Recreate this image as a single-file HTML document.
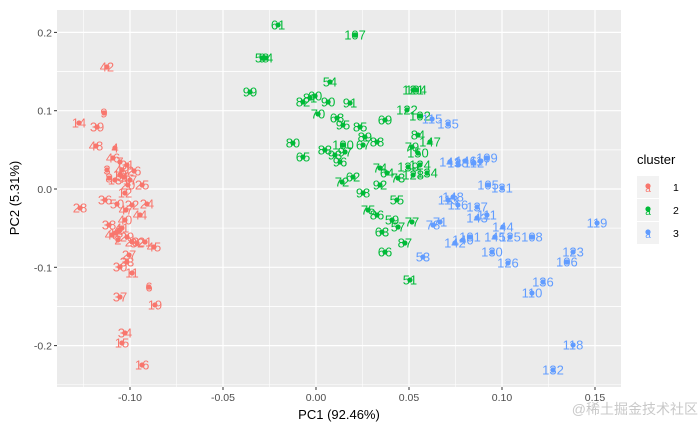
<!DOCTYPE html>
<html><head><meta charset="utf-8"><style>
body{margin:0;background:#fff;width:700px;height:432px;overflow:hidden}
svg{display:block;font-family:"Liberation Sans","Noto Sans CJK SC",sans-serif}
</style></head><body>
<svg id="chart" width="700" height="432">
<rect x="57" y="10" width="564" height="377" fill="#EBEBEB"/>
<g id="grid"></g>
<g id="pts"></g>
<g id="axes"></g>
<text x="339" y="419" font-size="13" text-anchor="middle" fill="#000">PC1 (92.46%)</text>
<text transform="translate(19,198) rotate(-90)" font-size="13" text-anchor="middle" fill="#000">PC2 (5.31%)</text>
<g>
<text x="637" y="164" font-size="13" fill="#000">cluster</text>
<g id="legend"></g>
</g>
<text x="698" y="414" font-size="14" text-anchor="end" fill="#bbb" opacity="0.8">@稀土掘金技术社区</text>
</svg>
<script>
const xTicks=[-0.10,-0.05,0.00,0.05,0.10,0.15];
const xTickLabels=["-0.10","-0.05","0.00","0.05","0.10","0.15"];
const yTicks=[0.2,0.1,0.0,-0.1,-0.2];
const yTickLabels=["0.2","0.1","0.0","-0.1","-0.2"];
const clusterNames=["1","2","3"];
const clusterColors=["#F8766D","#00BA38","#619CFF"];
const labels1=["42","9","14","39","48","4","46","7","31","26","3","8","10","35","13","25","12","28","36","50","22","24","44","40","38","1","18","41","29","23","32","21","45","27","33","30","11","6","37","19","34","15","16","2","20","43","47","49","17"];
const pc1_1=[-0.1124,-0.1140,-0.1274,-0.1177,-0.1183,-0.1081,-0.1091,-0.1054,-0.1016,-0.0978,-0.1124,-0.1113,-0.1054,-0.1032,-0.1081,-0.0935,-0.1027,-0.1269,-0.1134,-0.1070,-0.0989,-0.0909,-0.0946,-0.1027,-0.1113,-0.1059,-0.1075,-0.1043,-0.1016,-0.0989,-0.0962,-0.0919,-0.0871,-0.1005,-0.1016,-0.1054,-0.0989,-0.0898,-0.1054,-0.0866,-0.1027,-0.1043,-0.0935,-0.1065,-0.1011,-0.1097,-0.1022,-0.1043,-0.1000];
const pc2_1=[0.1558,0.0971,0.0843,0.0792,0.0549,0.0524,0.0396,0.0345,0.0307,0.0230,0.0243,0.0140,0.0179,0.0153,0.0115,0.0051,-0.0051,-0.0243,-0.0140,-0.0192,-0.0204,-0.0192,-0.0332,-0.0396,-0.0460,-0.0524,-0.0562,-0.0498,-0.0613,-0.0677,-0.0690,-0.0677,-0.0741,-0.0843,-0.0932,-0.0996,-0.1073,-0.1252,-0.1379,-0.1481,-0.1839,-0.1967,-0.2248,-0.0651,0.0051,-0.0587,-0.0268,0.0243,0.0115];
const labels2=["61","107","58","94","54","99","82","60","81","90","91","70","68","95","69","121","104","122","102","85","89","67","88","84","147","80","65","83","100","97","96","93","79","150","74","64","139","124","128","134","73","72","62","92","98","55","75","86","59","57","77","63","87","66","51"];
const pc1_2=[-0.0204,0.0210,-0.0290,-0.0269,0.0075,-0.0355,-0.0070,-0.0005,-0.0032,0.0065,0.0183,0.0011,0.0113,0.0145,0.0371,0.0522,0.0538,0.0489,0.0559,0.0237,0.0263,0.0253,0.0328,0.0548,0.0613,-0.0124,-0.0070,0.0048,0.0145,0.0156,0.0129,0.0102,0.0516,0.0548,0.0344,0.0382,0.0495,0.0559,0.0522,0.0597,0.0441,0.0140,0.0199,0.0344,0.0253,0.0435,0.0280,0.0328,0.0409,0.0441,0.0516,0.0355,0.0478,0.0371,0.0505];
const pc2_2=[0.2095,0.1967,0.1673,0.1673,0.1367,0.1239,0.1111,0.1188,0.1162,0.1111,0.1098,0.0958,0.0907,0.0817,0.0881,0.1264,0.1264,0.1009,0.0932,0.0792,0.0664,0.0562,0.0600,0.0690,0.0600,0.0587,0.0409,0.0498,0.0562,0.0473,0.0345,0.0434,0.0536,0.0460,0.0268,0.0204,0.0281,0.0307,0.0179,0.0204,0.0140,0.0089,0.0153,0.0051,-0.0051,-0.0140,-0.0268,-0.0332,-0.0396,-0.0485,-0.0421,-0.0549,-0.0690,-0.0805,-0.1162];
const labels3=["115","135","141","138","146","112","117","109","105","131","113","148","116","137","143","111","144","142","101","145","125","108","140","130","126","123","106","119","136","110","118","132","53","78","71"];
const pc1_3=[0.0624,0.0710,0.0720,0.0763,0.0806,0.0849,0.0882,0.0919,0.0925,0.1000,0.0710,0.0737,0.0763,0.0866,0.0866,0.0919,0.1005,0.0747,0.0828,0.0962,0.1043,0.1161,0.0790,0.0946,0.1032,0.1382,0.1349,0.1511,0.1220,0.1161,0.1382,0.1274,0.0575,0.0629,0.0667];
const pc2_3=[0.0894,0.0830,0.0345,0.0332,0.0358,0.0332,0.0358,0.0396,0.0051,0.0013,-0.0140,-0.0102,-0.0204,-0.0230,-0.0370,-0.0332,-0.0485,-0.0690,-0.0613,-0.0613,-0.0613,-0.0613,-0.0651,-0.0805,-0.0945,-0.0805,-0.0932,-0.0434,-0.1188,-0.1328,-0.1992,-0.2312,-0.0868,-0.0460,-0.0421];

const NS="http://www.w3.org/2000/svg";
const L=57,R=621,T=10,B=387;
function xs(v){return 316+v*1860;}
function ys(v){return 189-v*783;}
function mk(tag,attrs,parent){const e=document.createElementNS(NS,tag);for(const k in attrs)e.setAttribute(k,attrs[k]);parent.appendChild(e);return e;}
const grid=document.getElementById('grid');
const axes=document.getElementById('axes');
// minor grid
for(let i=0;i<xTicks.length;i++){
  const mv=xTicks[i]-0.025, mx=xs(mv);
  if(mx>L&&mx<R){const g=mk('line',{x1:mx,x2:mx,y1:T,y2:B,stroke:'#fff','stroke-width':0.6},grid);
  
  }
}
{const mx=xs(xTicks[xTicks.length-1]+0.025); if(mx<R){const g=mk('line',{x1:mx,x2:mx,y1:T,y2:B,stroke:'#fff','stroke-width':0.6},grid);
  
  }}
for(let i=0;i<yTicks.length;i++){
  for(const d of [0.05,-0.05]){const my=ys(yTicks[i]+d);
  if(my>T&&my<B){const g=mk('line',{x1:L,x2:R,y1:my,y2:my,stroke:'#fff','stroke-width':0.6},grid);
  
  }}
}
for(let i=0;i<xTicks.length;i++){
  const x=xs(xTicks[i]);
  const g=mk('line',{x1:x,x2:x,y1:T,y2:B,stroke:'#fff','stroke-width':1.2},grid);
  
  
  const t=mk('line',{x1:x,x2:x,y1:B,y2:B+3,stroke:'#333','stroke-width':1},axes);
  
  
  const lb=mk('text',{x:x,y:B+14,'font-size':10.5,'text-anchor':'middle',fill:'#4D4D4D'},axes);
  lb.textContent=xTickLabels[i];
  
  
}
for(let i=0;i<yTicks.length;i++){
  const y=ys(yTicks[i]);
  const g=mk('line',{x1:L,x2:R,y1:y,y2:y,stroke:'#fff','stroke-width':1.2},grid);
  
  
  const t=mk('line',{x1:L-3,x2:L,y1:y,y2:y,stroke:'#333','stroke-width':1},axes);
  
  
  const lb=mk('text',{x:L-5,y:y+4,'font-size':10.5,'text-anchor':'end',fill:'#4D4D4D'},axes);
  lb.textContent=yTickLabels[i];
  
  
}
const pts=document.getElementById('pts');
const series=[[labels1,pc1_1,pc2_1],[labels2,pc1_2,pc2_2],[labels3,pc1_3,pc2_3]];
series.forEach((s,ci)=>{
  const col=clusterColors[ci];
  for(let i=0;i<s[0].length;i++){
    const x=xs(s[1][i]), y=ys(s[2][i]);
    const t=mk('text',{x:x,y:y+4.5,'font-size':13,'text-anchor':'middle',fill:col},pts);
    t.textContent=s[0][i];
    
    
    const c=mk('circle',{cx:x,cy:y,r:2.6,fill:col},pts);
    
    
  }
});
const leg=document.getElementById('legend');
clusterNames.forEach((n,i)=>{
  const y=176+i*23;
  const r=mk('rect',{x:637,y:y,width:22,height:22,fill:'#F2F2F2'},leg);
  
  
  const a=mk('text',{x:648,y:y+16,'font-size':10,'text-anchor':'middle',fill:clusterColors[i]},leg);
  a.textContent='a';
  
  
  const c=mk('circle',{cx:648,cy:y+10,r:2.6,fill:clusterColors[i]},leg);
  
  
  const t=mk('text',{x:673,y:y+15,'font-size':10.5,fill:'#000'},leg);
  t.textContent=n;
  
  
});
</script>
</body></html>
